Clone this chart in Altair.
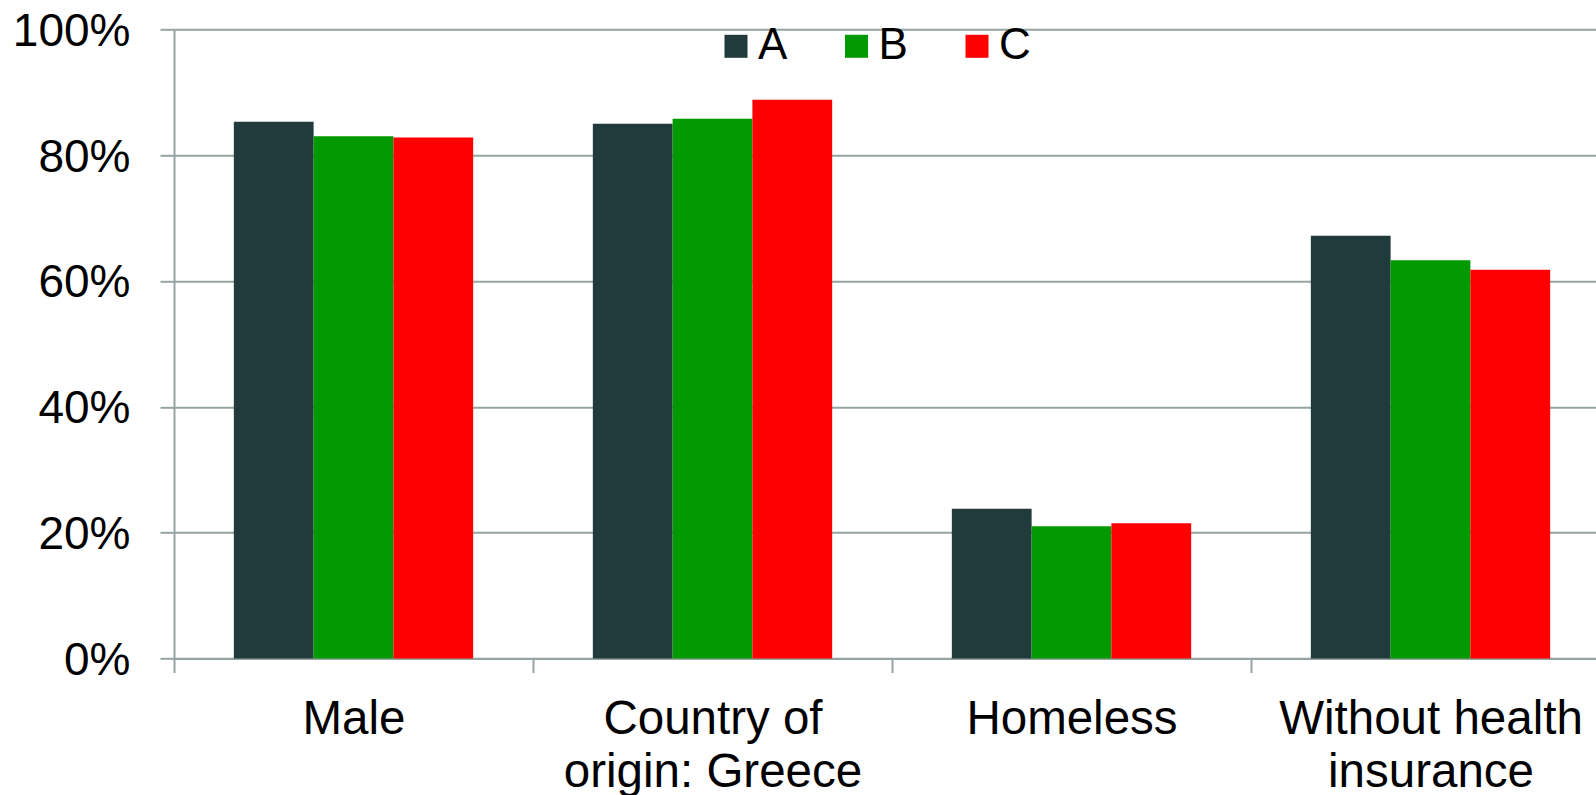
import altair as alt
import pandas as pd

# Categories (x axis) and their wrapped label lines
categories = ["Male", "Country of origin: Greece", "Homeless", "Without health insurance"]
label_lines = [["Male"], ["Country of", "origin: Greece"], ["Homeless"], ["Without health", "insurance"]]

# Series and their shares (%)
series = ["A", "B", "C"]
values_a = [85.3, 85.0, 23.8, 67.2]
values_b = [83.0, 85.8, 21.0, 63.3]
values_c = [82.8, 88.8, 21.5, 61.8]
colors = ["#213B3D", "#009900", "#FF0000"]
y_ticks = [0, 20, 40, 60, 80, 100]

rows = []
for s, vals in zip(series, [values_a, values_b, values_c]):
    for c, v in zip(categories, vals):
        rows.append({"category": c, "series": s, "share": v})
df = pd.DataFrame(rows)

# Map each category to its multi-line label
label_expr = ""
for c, lines in zip(categories, label_lines):
    arr = "[" + ", ".join(f"'{t}'" for t in lines) + "]"
    label_expr += f"datum.label == '{c}' ? {arr} : "
label_expr += "datum.label"

FONT = "Liberation Sans"
GRID = "#95A3A3"

chart = (
    alt.Chart(df)
    .mark_bar()
    .encode(
        x=alt.X(
            "category:N",
            sort=categories,
            scale=alt.Scale(paddingInner=0, paddingOuter=0, range=[0, 1436]),
            axis=alt.Axis(
                title=None,
                labelAngle=0,
                tickBand="extent",
                grid=False,
                domainColor=GRID,
                domainWidth=2,
                tickColor=GRID,
                tickWidth=2,
                tickSize=14,
                labelPadding=22.5,
                labelFont=FONT,
                labelFontSize=47.5,
                labelLineHeight=53.3,
                labelColor="black",
                labelLimit=600,
                labelExpr=label_expr,
            ),
        ),
        xOffset=alt.XOffset(
            "series:N",
            sort=series,
            scale=alt.Scale(paddingInner=0, paddingOuter=0.75),
        ),
        y=alt.Y(
            "share:Q",
            scale=alt.Scale(domain=[0, 100], nice=False),
            axis=alt.Axis(
                title=None,
                values=y_ticks,
                labelExpr="datum.value + '%'",
                domainColor=GRID,
                domainWidth=2,
                gridColor=GRID,
                gridWidth=2,
                tickColor=GRID,
                tickWidth=2,
                tickSize=14,
                labelPadding=30,
                labelFont=FONT,
                labelFontSize=46,
                labelColor="black",
                labelOffset=2,
            ),
        ),
        color=alt.Color(
            "series:N",
            sort=series,
            scale=alt.Scale(domain=series, range=colors),
            legend=alt.Legend(
                title=None,
                orient="none",
                legendX=540,
                legendY=-5,
                direction="horizontal",
                symbolType="square",
                symbolSize=529,
                symbolStrokeWidth=0,
                symbolOpacity=1,
                labelFont=FONT,
                labelFontSize=44,
                labelColor="black",
                labelOffset=0,
                columnPadding=46.5,
                padding=0,
            ),
        ),
    )
    .properties(
        width=1422,
        height=629.2,
        autosize=alt.AutoSizeParams(type="none"),
        padding={"left": 174, "top": 29.3, "right": 0, "bottom": 136.5},
    )
    .configure_view(stroke=None)
    .configure(background="white")
)

chart.save("out.html", embed_options={"renderer": "svg", "actions": False})
